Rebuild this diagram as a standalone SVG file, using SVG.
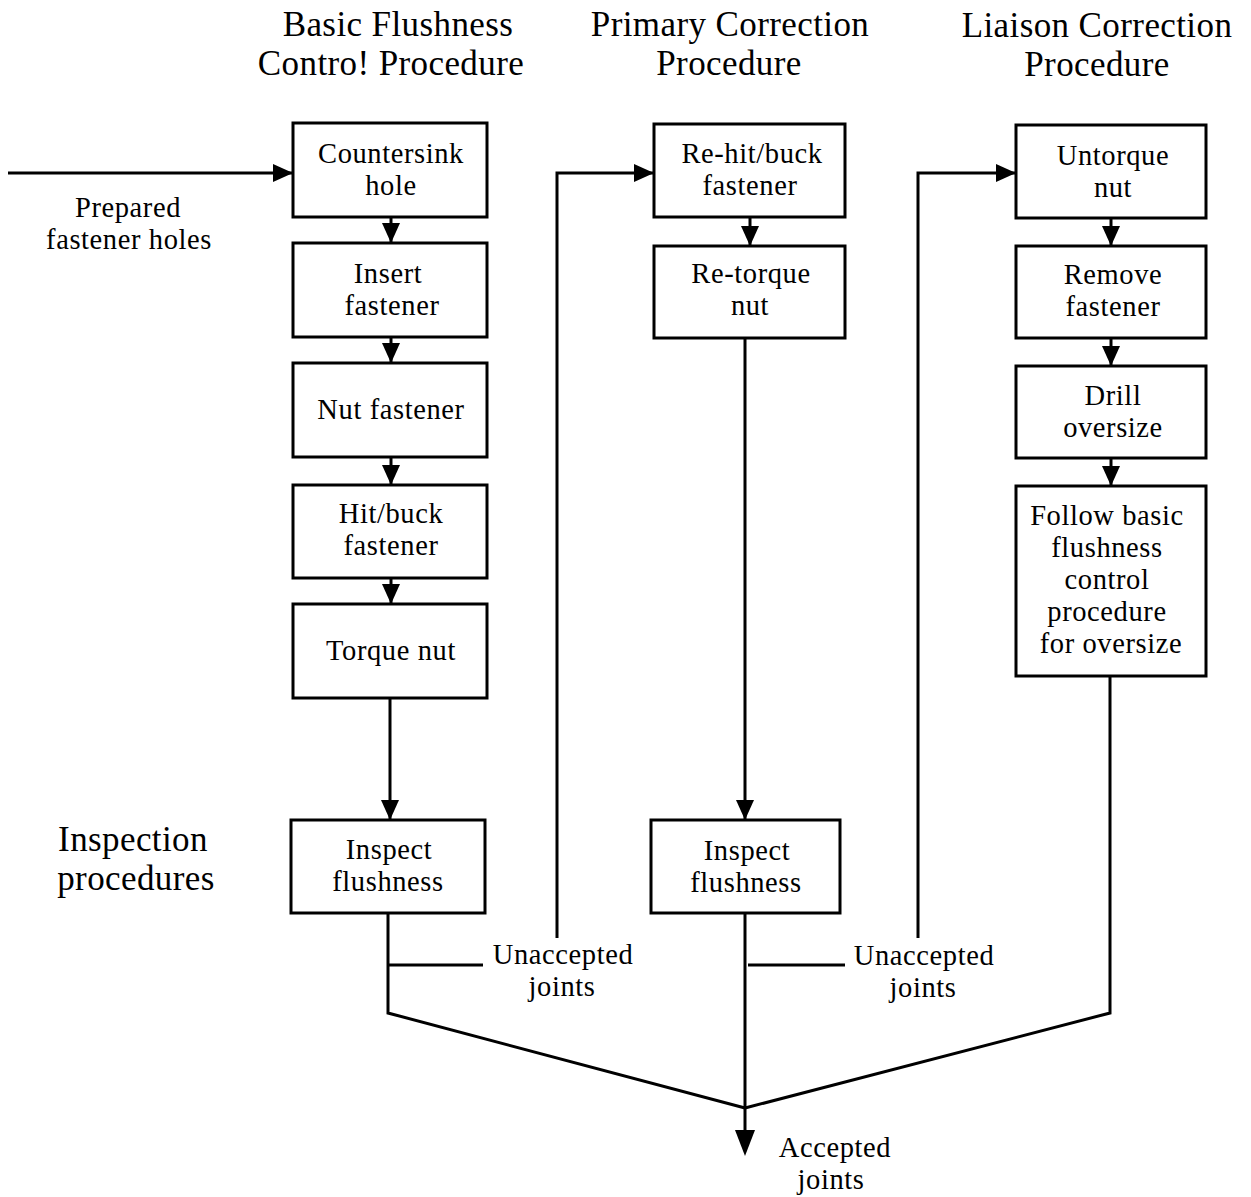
<svg xmlns="http://www.w3.org/2000/svg" width="1251" height="1197" viewBox="0 0 1251 1197">
  <style>
    .box { fill: #fff; stroke: #000; stroke-width: 3; }
    .t { font-family: "Liberation Serif", "Times New Roman", serif; font-size: 28.5px; letter-spacing: 0.6px; fill: #000; text-anchor: middle; }
    .h { font-family: "Liberation Serif", "Times New Roman", serif; font-size: 35px; letter-spacing: 0.4px; fill: #000; text-anchor: middle; }
    .ln { fill: none; stroke: #000; stroke-width: 3; }
    .arr { marker-end: url(#head); }
  </style>
  <defs>
    <marker id="head" viewBox="0 0 20 20" refX="20" refY="10" markerWidth="20" markerHeight="20" markerUnits="userSpaceOnUse" orient="auto">
      <path d="M0,1 L20,10 L0,19 z" fill="#000"/>
    </marker>
  </defs>

  <rect width="1251" height="1197" fill="#fff"/>

  <!-- column headings -->
  <g id="headings">
    <text class="h" x="398" y="36">Basic Flushness</text>
    <text class="h" x="391" y="75">Contro! Procedure</text>
    <text class="h" x="730" y="36">Primary Correction</text>
    <text class="h" x="729" y="75">Procedure</text>
    <text class="h" x="1097" y="37">Liaison Correction</text>
    <text class="h" x="1097" y="76">Procedure</text>
    <text class="h" x="133" y="851">Inspection</text>
    <text class="h" x="136" y="890">procedures</text>
  </g>

  <!-- connectors -->
  <g id="connectors">
    <path class="ln arr" d="M8,173 H293"/>
    <path class="ln arr" d="M391,217 V243"/>
    <path class="ln arr" d="M391,337 V363"/>
    <path class="ln arr" d="M391,457 V485"/>
    <path class="ln arr" d="M391,578 V604"/>
    <path class="ln arr" d="M390,698 V820"/>
    <path class="ln arr" d="M750,217 V246"/>
    <path class="ln arr" d="M745,338 V820"/>
    <path class="ln arr" d="M1111,218 V246"/>
    <path class="ln arr" d="M1111,338 V366"/>
    <path class="ln arr" d="M1111,458 V486"/>
    <!-- rejected joints loop back -->
    <path class="ln" d="M388,965 H483"/>
    <path class="ln arr" d="M557,938 V173 H654"/>
    <path class="ln" d="M748,965 H845"/>
    <path class="ln arr" d="M918,938 V173 H1016"/>
    <!-- accepted joints merge -->
    <path class="ln" d="M388,913 V1013 L745,1108"/>
    <path class="ln" d="M1110,676 V1013 L745,1108"/>
    <path class="ln" d="M745,913 V1130"/>
    <path d="M735,1130 L755,1130 L745,1156 z" fill="#000"/>
  </g>

  <g id="label-prepared">
    <text class="t" x="128" y="217">Prepared</text>
    <text class="t" x="129" y="249">fastener holes</text>
  </g>
  <g id="label-unaccepted-1">
    <text class="t" x="563" y="964">Unaccepted</text>
    <text class="t" x="562" y="996">joints</text>
  </g>
  <g id="label-unaccepted-2">
    <text class="t" x="924" y="965">Unaccepted</text>
    <text class="t" x="923" y="997">joints</text>
  </g>
  <g id="label-accepted">
    <text class="t" x="835" y="1157">Accepted</text>
    <text class="t" x="831" y="1189">joints</text>
  </g>

  <!-- basic flushness control procedure -->
  <g id="countersink">
    <rect class="box" x="293" y="123" width="194" height="94"/>
    <text class="t" x="391" y="163">Countersink</text>
    <text class="t" x="391" y="195">hole</text>
  </g>
  <g id="insert">
    <rect class="box" x="293" y="243" width="194" height="94"/>
    <text class="t" x="388" y="283">Insert</text>
    <text class="t" x="392" y="315">fastener</text>
  </g>
  <g id="nut">
    <rect class="box" x="293" y="363" width="194" height="94"/>
    <text class="t" x="391" y="419">Nut fastener</text>
  </g>
  <g id="hitbuck">
    <rect class="box" x="293" y="485" width="194" height="93"/>
    <text class="t" x="391" y="523">Hit/buck</text>
    <text class="t" x="391" y="555">fastener</text>
  </g>
  <g id="torque">
    <rect class="box" x="293" y="604" width="194" height="94"/>
    <text class="t" x="391" y="660">Torque nut</text>
  </g>
  <g id="inspect-1">
    <rect class="box" x="291" y="820" width="194" height="93"/>
    <text class="t" x="389" y="859">Inspect</text>
    <text class="t" x="388" y="891">flushness</text>
  </g>

  <!-- primary correction procedure -->
  <g id="rehit">
    <rect class="box" x="654" y="124" width="191" height="93"/>
    <text class="t" x="752" y="163">Re-hit/buck</text>
    <text class="t" x="750" y="195">fastener</text>
  </g>
  <g id="retorque">
    <rect class="box" x="654" y="246" width="191" height="92"/>
    <text class="t" x="751" y="283">Re-torque</text>
    <text class="t" x="750" y="315">nut</text>
  </g>
  <g id="inspect-2">
    <rect class="box" x="651" y="820" width="189" height="93"/>
    <text class="t" x="747" y="860">Inspect</text>
    <text class="t" x="746" y="892">flushness</text>
  </g>

  <!-- liaison correction procedure -->
  <g id="untorque">
    <rect class="box" x="1016" y="125" width="190" height="93"/>
    <text class="t" x="1113" y="165">Untorque</text>
    <text class="t" x="1113" y="197">nut</text>
  </g>
  <g id="remove">
    <rect class="box" x="1016" y="246" width="190" height="92"/>
    <text class="t" x="1113" y="284">Remove</text>
    <text class="t" x="1113" y="316">fastener</text>
  </g>
  <g id="drill">
    <rect class="box" x="1016" y="366" width="190" height="92"/>
    <text class="t" x="1113" y="405">Drill</text>
    <text class="t" x="1113" y="437">oversize</text>
  </g>
  <g id="follow">
    <rect class="box" x="1016" y="486" width="190" height="190"/>
    <text class="t" x="1107" y="525">Follow basic</text>
    <text class="t" x="1107" y="557">flushness</text>
    <text class="t" x="1107" y="589">control</text>
    <text class="t" x="1107" y="621">procedure</text>
    <text class="t" x="1111" y="653">for oversize</text>
  </g>
</svg>
